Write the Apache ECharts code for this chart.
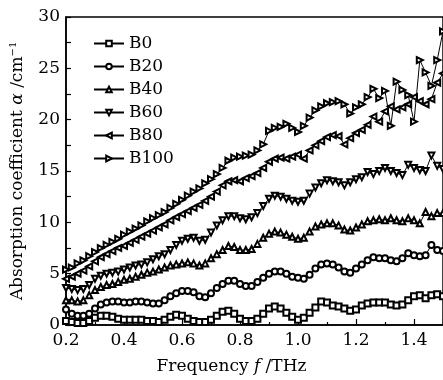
<!DOCTYPE html>
<html>
<head>
<meta charset="utf-8">
<script src="https://cdn.jsdelivr.net/npm/echarts@6/dist/echarts.min.js"></script>
<style>
  html, body { margin: 0; padding: 0; background: #fff; }
  #chart { width: 443px; height: 380px; }
</style>
</head>
<body>
<div id="chart"></div>
<script>
// frequency grid, THz
const freq = [
  0.20, 0.22, 0.24, 0.26, 0.28, 0.30, 0.32, 0.34, 0.36, 0.38,
  0.40, 0.42, 0.44, 0.46, 0.48, 0.50, 0.52, 0.54, 0.56, 0.58,
  0.60, 0.62, 0.64, 0.66, 0.68, 0.70, 0.72, 0.74, 0.76, 0.78,
  0.80, 0.82, 0.84, 0.86, 0.88, 0.90, 0.92, 0.94, 0.96, 0.98,
  1.00, 1.02, 1.04, 1.06, 1.08, 1.10, 1.12, 1.14, 1.16, 1.18,
  1.20, 1.22, 1.24, 1.26, 1.28, 1.30, 1.32, 1.34, 1.36, 1.38,
  1.40, 1.42, 1.44, 1.46, 1.48, 1.50
];

// absorption coefficient, cm^-1
const b0 = [
  0.4, 0.3, 0.2, 0.2, 0.4, 0.7, 0.9, 0.9, 0.8, 0.6,
  0.5, 0.5, 0.5, 0.5, 0.4, 0.4, 0.3, 0.5, 0.8, 1.0,
  0.9, 0.6, 0.4, 0.3, 0.3, 0.5, 0.9, 1.3, 1.4, 1.1,
  0.6, 0.4, 0.4, 0.6, 1.1, 1.6, 1.8, 1.6, 1.2, 0.8,
  0.5, 0.7, 1.2, 1.7, 2.3, 2.2, 1.9, 1.8, 1.6, 1.4,
  1.5, 1.9, 2.1, 2.2, 2.2, 2.2, 2.0, 1.9, 2.0, 2.4,
  2.8, 2.9, 2.6, 2.9, 3.0, 2.8
];
const b20 = [
  1.5, 1.1, 0.9, 0.9, 1.1, 1.6, 2.0, 2.2, 2.3, 2.3,
  2.2, 2.2, 2.3, 2.3, 2.2, 2.1, 2.1, 2.4, 2.8, 3.1,
  3.3, 3.3, 3.2, 2.8, 2.7, 3.1, 3.6, 4.0, 4.3, 4.3,
  4.0, 3.8, 3.8, 4.2, 4.6, 5.0, 5.2, 5.2, 5.0, 4.7,
  4.6, 4.5, 4.9, 5.5, 5.9, 6.0, 5.9, 5.6, 5.2, 5.1,
  5.5, 5.9, 6.3, 6.6, 6.5, 6.5, 6.3, 6.2, 6.5, 7.0,
  6.8, 6.7, 6.8, 7.8, 7.3, 7.2
];
const b40 = [
  2.4, 2.4, 2.3, 2.4, 2.9, 3.4, 3.7, 3.9, 4.0, 4.2,
  4.4, 4.5, 4.7, 4.9, 5.1, 5.2, 5.4, 5.6, 5.8, 5.9,
  6.0, 6.1, 6.0, 5.8, 6.0, 6.5, 6.9, 7.3, 7.7, 7.6,
  7.3, 7.3, 7.4, 7.9, 8.5, 8.9, 9.1, 9.0, 8.8, 8.6,
  8.4, 8.5, 9.1, 9.6, 9.8, 9.9, 9.9, 9.7, 9.3, 9.2,
  9.5, 9.8, 10.1, 10.2, 10.3, 10.2, 10.4, 10.2, 10.1, 10.4,
  10.2, 9.9, 11.0, 10.6, 10.9, 10.9
];
const b60 = [
  3.6, 3.5, 3.4, 3.5, 3.9, 4.5, 4.8, 5.0, 5.1, 5.2,
  5.4, 5.6, 5.8, 5.9, 6.1, 6.4, 6.7, 6.9, 7.3, 7.8,
  8.2, 8.4, 8.5, 8.2, 8.3, 9.0, 9.7, 10.2, 10.6, 10.6,
  10.4, 10.3, 10.5, 10.9, 11.6, 12.3, 12.6, 12.5, 12.3, 12.1,
  12.0, 12.1, 12.8, 13.4, 13.8, 14.1, 14.0, 13.9, 13.6, 13.9,
  14.2, 14.4, 14.9, 14.7, 15.0, 15.3, 15.0, 14.8, 14.6, 15.6,
  15.3, 15.1, 15.0, 16.5, 15.5, 15.2
];
const b80 = [
  4.5, 4.7, 5.0, 5.3, 5.7, 6.2, 6.6, 6.9, 7.2, 7.5,
  7.7, 8.0, 8.3, 8.6, 8.9, 9.2, 9.5, 9.8, 10.2, 10.5,
  10.8, 11.1, 11.4, 11.7, 12.1, 12.5, 13.0, 13.6, 14.0, 14.1,
  14.0, 14.3, 14.5, 14.8, 15.3, 15.9, 16.2, 16.3, 16.2, 16.4,
  16.6, 16.2, 17.0, 17.5, 17.9, 18.3, 18.5, 18.4, 17.6, 18.2,
  18.7, 19.0, 19.5, 20.3, 19.8, 20.8, 21.3, 21.0, 21.2, 21.5,
  22.2, 21.8, 21.5, 22.0, 23.6, 24.5
];
const b100 = [
  5.4, 5.6, 6.0, 6.3, 6.7, 7.1, 7.5, 7.8, 8.1, 8.4,
  8.8, 9.1, 9.4, 9.7, 10.1, 10.4, 10.7, 11.0, 11.4, 11.8,
  12.2, 12.6, 13.0, 13.3, 13.8, 14.2, 14.7, 15.3, 16.0, 16.3,
  16.4, 16.5, 16.6, 17.0, 17.6, 18.9, 19.2, 19.3, 19.6, 19.2,
  18.8, 19.4, 20.2, 20.9, 21.3, 21.6, 21.7, 21.8, 21.5, 20.6,
  21.2, 21.5, 22.2, 23.0, 22.1, 22.8, 19.4, 23.7, 22.9, 22.4,
  19.8, 25.8, 24.6, 23.3, 25.8, 28.6
];

const seriesNames = ['B0', 'B20', 'B40', 'B60', 'B80', 'B100'];
const xTicks = [0.2, 0.4, 0.6, 0.8, 1.0, 1.2, 1.4];
const yTicks = [0, 5, 10, 15, 20, 25, 30];

const font = 'DejaVu Serif';
const marks = [
  { symbol: 'emptyRect', rotate: 0 },
  { symbol: 'emptyCircle', rotate: 0 },
  { symbol: 'emptyTriangle', rotate: 0 },
  { symbol: 'emptyTriangle', rotate: 180 },
  { symbol: 'emptyTriangle', rotate: 90 },
  { symbol: 'emptyTriangle', rotate: -90 }
];
const values = [b0, b20, b40, b60, b80, b100];

const chart = echarts.init(document.getElementById('chart'), null, { renderer: 'canvas' });

const option = {
  backgroundColor: '#fff',
  animation: false,
  textStyle: { fontFamily: font, color: '#000' },
  grid: {
    left: 64, right: -2, top: 17, bottom: 53,
    show: true, borderColor: '#000', borderWidth: 1.5
  },
  legend: {
    data: seriesNames,
    orient: 'vertical',
    left: 93, top: 35,
    padding: 0,
    itemWidth: 30, itemHeight: 7,
    itemGap: 6,
    textStyle: { fontFamily: font, fontSize: 17, color: '#000', padding: [0, 0, 0, 0] }
  },
  xAxis: {
    type: 'value',
    min: 0.2, max: 1.5, interval: 0.2,
    name: 'Frequency {i|f} /THz',
    nameLocation: 'middle',
    nameGap: 33,
    nameTextStyle: {
      fontFamily: font, fontSize: 17, color: '#000',
      padding: [0, 46, 0, 0],
      rich: { i: { fontFamily: font, fontStyle: 'italic', fontSize: 17, color: '#000' } }
    },
    axisLine: { show: true, onZero: false, lineStyle: { color: '#000', width: 1.5 } },
    axisTick: { show: true, inside: true, length: 6, lineStyle: { color: '#000', width: 1.2 } },
    minorTick: { show: true, splitNumber: 2, length: 3, lineStyle: { color: '#000', width: 1.2 } },
    axisLabel: {
      customValues: xTicks,
      margin: 7,
      fontFamily: font, fontSize: 17, color: '#000',
      formatter: v => v.toFixed(1)
    },
    splitLine: { show: false }
  },
  yAxis: {
    type: 'value',
    min: 0, max: 30, interval: 5,
    name: 'Absorption coefficient {i|α} /cm{s|−1}',
    nameLocation: 'middle',
    nameGap: 39,
    nameTextStyle: {
      fontFamily: font, fontSize: 17, color: '#000',
      rich: {
        i: { fontFamily: font, fontStyle: 'italic', fontSize: 17, color: '#000' },
        s: { fontFamily: font, fontSize: 10, color: '#000', padding: [0, 0, 9, 0] }
      }
    },
    axisLine: { show: true, onZero: false, lineStyle: { color: '#000', width: 1.5 } },
    axisTick: { show: true, inside: true, length: 5, lineStyle: { color: '#000', width: 1.2 } },
    minorTick: { show: true, splitNumber: 2, length: 5, lineStyle: { color: '#000', width: 1.2 } },
    axisLabel: {
      customValues: yTicks,
      margin: 6,
      fontFamily: font, fontSize: 17, color: '#000'
    },
    splitLine: { show: false }
  },
  series: seriesNames.map((name, k) => ({
    name: name,
    type: 'line',
    data: freq.map((f, i) => [f, values[k][i]]),
    symbol: marks[k].symbol,
    symbolRotate: marks[k].rotate,
    symbolSize: 6,
    showSymbol: true,
    showAllSymbol: true,
    color: '#000',
    lineStyle: { color: '#000', width: 1 },
    itemStyle: { color: '#000', borderColor: '#000', borderWidth: 1.4 },
    emphasis: { disabled: true },
    z: 2 + k
  }))
};

chart.setOption(option);
</script>
</body>
</html>
